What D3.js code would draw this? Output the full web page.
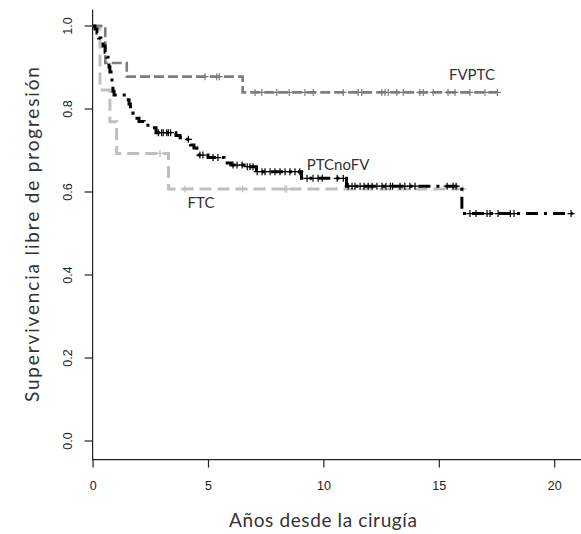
<!DOCTYPE html>
<html>
<head>
<meta charset="utf-8">
<script src="https://cdn.jsdelivr.net/npm/d3@7/dist/d3.min.js"></script>
<style>
  html, body { margin: 0; padding: 0; background: #fff; }
  svg { display: block; }
</style>
</head>
<body>
<script>
// ---- Data ----
const xTicks = [0, 5, 10, 15, 20];
const yTicks = [0.0, 0.2, 0.4, 0.6, 0.8, 1.0];

// FVPTC
const fvptcTimes = [0.55, 1.48, 6.5];
const fvptcSurv  = [0.911, 0.878, 0.840];
const fvptcEnd   = 17.55;
const fvptcCensor = [4.87, 5.38, 5.49, 7.04, 7.33, 7.98, 8.52, 9.2, 9.56, 10.86, 11.51, 11.66,
                     12.53, 12.67, 12.81, 13.18, 13.46, 14.18, 14.33, 14.76, 15.4, 15.7, 16.35, 17.0, 17.54];

// FTC
const ftcTimes = [0.32, 0.75, 1.04, 3.29];
const ftcSurv  = [0.846, 0.769, 0.693, 0.607];
const ftcEnd   = 16.05;
const ftcCensor = [2.92, 4.0, 6.5, 8.34, 8.41, 16.05];

// PTCnoFV
const ptcTimes = [0.1, 0.19, 0.26, 0.36, 0.45, 0.54, 0.62, 0.67, 0.71, 0.75, 0.80, 0.84, 0.88, 0.93,
                  1.45, 1.58, 1.64, 1.75, 1.84, 2.01, 2.23, 2.57, 2.75, 3.61, 3.79, 3.96, 4.24, 4.39,
                  4.52, 4.61, 5.0, 5.7, 6.0, 6.56, 7.1, 9.05, 11.0, 16.0];
const ptcSurv  = [0.993, 0.983, 0.971, 0.961, 0.952, 0.937, 0.925, 0.913, 0.901, 0.889, 0.875, 0.858, 0.843, 0.834,
                  0.822, 0.812, 0.802, 0.790, 0.778, 0.770, 0.761, 0.755, 0.743, 0.736, 0.731, 0.727, 0.713, 0.706,
                  0.696, 0.689, 0.683, 0.670, 0.665, 0.661, 0.649, 0.633, 0.614, 0.548];
const ptcEnd   = 20.8;
const ptcCensor = [2.85, 2.99, 3.06, 3.21, 3.28, 3.38, 4.15, 4.65, 4.78, 5.22, 5.43, 6.08, 6.26, 6.48, 6.70, 6.82,
                   6.95, 7.13, 7.34, 7.47, 7.69, 7.9, 8.12, 8.34, 8.55, 8.77, 8.98, 9.29, 9.55, 9.77, 9.95,
                   10.6, 10.86, 11.07, 11.24, 11.37, 11.59, 11.76, 11.94, 12.11, 12.32, 12.54, 12.71, 12.9, 13.0,
                   13.32, 13.53, 13.75, 13.97, 15.36, 15.62, 15.75, 16.35, 16.61, 17.09, 17.22, 17.57, 18.1, 18.26, 20.73];

const seriesNames = ["FTC", "FVPTC", "PTCnoFV"];

// ---- Layout ----
const W = 581, H = 534;
const svg = d3.select("body").append("svg").attr("width", W).attr("height", H);

const x = d3.scaleLinear().domain([0, 20]).range([92.6, 554.2]);
const y = d3.scaleLinear().domain([0, 1]).range([441, 26]);

const boxTop = 9.5, boxBottom = 459.6, boxLeft = 92.6;

// frame (left + bottom)
svg.append("path")
  .attr("d", `M${boxLeft},${boxTop}V${boxBottom}H${W + 2}`)
  .attr("fill", "none").attr("stroke", "#222").attr("stroke-width", 1.2);

// axes
const xAxis = svg.append("g").attr("transform", `translate(0,${boxBottom})`)
  .call(d3.axisBottom(x).tickValues(xTicks).tickSize(8).tickPadding(14).tickFormat(d3.format("d")));
xAxis.select(".domain").remove();
xAxis.selectAll("line").attr("stroke", "#222").attr("stroke-width", 1.2);
xAxis.selectAll("text").attr("font-family", "'Liberation Sans', Arial, sans-serif")
  .attr("font-size", 12.5).attr("fill", "#222");

const yAxis = svg.append("g").attr("transform", `translate(${boxLeft},0)`)
  .call(d3.axisLeft(y).tickValues(yTicks).tickSize(8).tickFormat(d3.format(".1f")));
yAxis.select(".domain").remove();
yAxis.selectAll(".tick").attr("transform", null);
yAxis.selectAll(".tick line")
  .attr("y1", d => y(d)).attr("y2", d => y(d))
  .attr("stroke", "#222").attr("stroke-width", 1.2);
yAxis.selectAll(".tick text")
  .attr("font-family", "'Liberation Sans', Arial, sans-serif")
  .attr("font-size", 12.5).attr("fill", "#222")
  .attr("text-anchor", "middle")
  .attr("x", 0).attr("y", 0).attr("dy", 0)
  .attr("transform", d => `translate(${72 - boxLeft},${y(d)}) rotate(-90)`);

// axis titles
svg.append("text")
  .attr("x", 323).attr("y", 527)
  .attr("text-anchor", "middle")
  .attr("font-family", "Lato, 'Open Sans', sans-serif")
  .attr("font-size", 19).attr("fill", "#333")
  .attr("textLength", 188).attr("lengthAdjust", "spacing")
  .text("Años desde la cirugía");

svg.append("text")
  .attr("transform", `translate(39,${(boxTop + boxBottom) / 2}) rotate(-90)`)
  .attr("text-anchor", "middle")
  .attr("font-family", "Lato, 'Open Sans', sans-serif")
  .attr("font-size", 19).attr("fill", "#333")
  .attr("textLength", 335).attr("lengthAdjust", "spacing")
  .text("Supervivencia libre de progresión");

// ---- KM curves ----
function stepPoints(times, surv, end) {
  const pts = [[0, 1]];
  times.forEach((t, i) => pts.push([t, surv[i]]));
  pts.push([end, surv[surv.length - 1]]);
  return pts;
}
function survAt(times, surv, t) {
  let s = 1;
  for (let i = 0; i < times.length; i++) if (times[i] <= t) s = surv[i];
  return s;
}
const line = d3.line().x(d => x(d[0])).y(d => y(d[1])).curve(d3.curveStepAfter);

const series = [
  { name: seriesNames[0], times: ftcTimes, surv: ftcSurv, end: ftcEnd, censor: ftcCensor,
    color: "#bfbfbf", width: 3, dash: "12,6" },
  { name: seriesNames[1], times: fvptcTimes, surv: fvptcSurv, end: fvptcEnd, censor: fvptcCensor,
    color: "#7d7d7d", width: 2.6, dash: "10,4" },
  { name: seriesNames[2], times: ptcTimes, surv: ptcSurv, end: ptcEnd, censor: ptcCensor,
    color: "#000000", width: 3, dash: "12,6,3,6" }
];

series.forEach(s => {
  const g = svg.append("g");
  g.append("path")
    .attr("d", line(stepPoints(s.times, s.surv, s.end)))
    .attr("fill", "none").attr("stroke", s.color)
    .attr("stroke-width", s.width).attr("stroke-dasharray", s.dash);
  g.selectAll("path.c").data(s.censor).enter().append("path")
    .attr("class", "c")
    .attr("d", t => {
      const cx = x(t), cy = y(survAt(s.times, s.surv, t));
      return `M${cx - 3.5},${cy}H${cx + 3.5}M${cx},${cy - 3.5}V${cy + 3.5}`;
    })
    .attr("stroke", s.color).attr("stroke-width", 1.2).attr("fill", "none");
});

// ---- curve labels ----
const labelFont = "Lato, 'Open Sans', sans-serif";
const labels = [
  { text: seriesNames[1], x: 472, y: 80 },
  { text: seriesNames[2], x: 338, y: 170 },
  { text: seriesNames[0], x: 201, y: 208 }
];
svg.selectAll("text.lab").data(labels).enter().append("text")
  .attr("class", "lab")
  .attr("x", d => d.x).attr("y", d => d.y)
  .attr("text-anchor", "middle")
  .attr("font-family", labelFont).attr("font-size", 15).attr("fill", "#333")
  .text(d => d.text);
</script>
</body>
</html>
